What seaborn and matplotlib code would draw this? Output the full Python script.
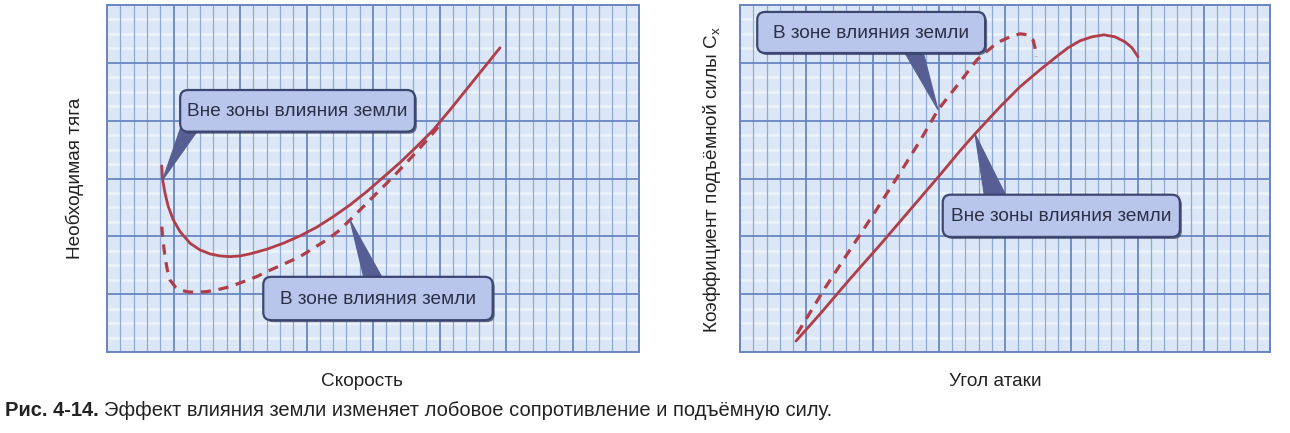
import numpy as np
import pandas as pd
import matplotlib
matplotlib.use("Agg")
import matplotlib.pyplot as plt
from matplotlib.patches import FancyBboxPatch, Polygon
import seaborn as sns

# --- Required thrust vs speed (left panel), grid units ---
speed_out = [0.823, 0.837, 0.872, 0.922, 0.997, 1.098, 1.248, 1.398, 1.549, 1.699,
             1.850, 2.000, 2.150, 2.401, 2.652, 2.902, 3.153, 3.403, 3.654, 3.905,
             4.155, 4.406, 4.657, 4.907, 5.158, 5.534, 5.910]
thrust_out = [3.218, 2.976, 2.745, 2.514, 2.284, 2.082, 1.881, 1.765, 1.696, 1.661,
              1.649, 1.661, 1.696, 1.776, 1.881, 2.007, 2.157, 2.341, 2.543, 2.773,
              3.022, 3.275, 3.552, 3.841, 4.187, 4.723, 5.260]

speed_in = [0.823, 0.847, 0.872, 0.907, 0.947, 1.023, 1.098, 1.223, 1.348, 1.499,
            1.649, 1.850, 2.050, 2.251, 2.401, 2.652, 2.902, 3.103, 3.303, 3.504,
            3.654, 3.855, 4.055, 4.256, 4.456, 4.657, 4.907, 5.008]
thrust_in = [2.168, 1.881, 1.649, 1.419, 1.246, 1.130, 1.073, 1.038, 1.033, 1.044,
             1.073, 1.130, 1.216, 1.303, 1.389, 1.517, 1.649, 1.794, 1.938, 2.111,
             2.284, 2.514, 2.745, 2.975, 3.215, 3.465, 3.790, 3.930]

# --- Lift coefficient vs angle of attack (right panel), grid units ---
aoa_out = [0.845, 1.208, 1.660, 2.113, 2.566, 3.019, 3.321, 3.547, 3.925, 4.226,
           4.528, 4.755, 4.951, 5.132, 5.313, 5.494, 5.660, 5.811, 5.917, 6.008]
cl_out = [0.190, 0.657, 1.263, 1.851, 2.457, 3.062, 3.478, 3.772, 4.239, 4.585,
          4.879, 5.087, 5.260, 5.381, 5.450, 5.484, 5.450, 5.363, 5.260, 5.104]

aoa_in = [0.860, 1.072, 1.283, 1.660, 2.038, 2.415, 2.717, 2.989, 3.321, 3.577,
          3.879, 4.075, 4.226, 4.347, 4.423, 4.453, 4.468]
cl_in = [0.311, 0.709, 1.107, 1.765, 2.422, 3.097, 3.651, 4.187, 4.671, 5.052,
         5.346, 5.450, 5.502, 5.484, 5.398, 5.260, 5.104]

label_out = "Вне зоны влияния земли"
label_in = "В зоне влияния земли"
xlabel_left = "Скорость"
ylabel_left = "Необходимая тяга"
xlabel_right = "Угол атаки"
ylabel_right = "Коэффициент подъёмной силы C$_\\mathregular{x}$"
caption_bold = "Рис. 4-14."
caption_text = "Эффект влияния земли изменяет лобовое сопротивление и подъёмную силу."

sns.set_style("white")
plt.rcParams["font.family"] = ["Liberation Sans", "DejaVu Sans"]
plt.rcParams["mathtext.default"] = "regular"

BG = "#dbe7f6"
MINOR_V = "#8fa8d5"
MAJOR = "#6a86c0"
MINOR_H = "#edf3fb"
CURVE = "#b03d48"
BOX_FC = "#b9c5ea"
BOX_EC = "#3c4670"
POINTER = "#565e93"
TEXT = "#2b3048"

W, H = 1290, 433
fig = plt.figure(figsize=(W / 100, H / 100), dpi=100)
fig.patch.set_facecolor("white")

ax_l = fig.add_axes([107 / W, 1 - 352 / H, 532 / W, 347 / H])
ax_r = fig.add_axes([740 / W, 1 - 352 / H, 530 / W, 347 / H])


def graph_paper(ax):
    ax.set_facecolor(BG)
    ax.set_xlim(0, 8)
    ax.set_ylim(0, 6)
    ax.set_xticks(np.arange(0, 9, 1))
    ax.set_xticks(np.arange(0, 8.01, 0.2), minor=True)
    ax.set_yticks(np.arange(0, 7, 1))
    # faint light stripes between the major rows, kept under the vertical rules
    for yv in np.arange(0.25, 6, 0.25):
        if abs(yv - round(yv)) > 1e-6:
            ax.axhline(yv, color=MINOR_H, lw=1.8, zorder=0.1)
    ax.grid(which="minor", axis="x", color=MINOR_V, lw=0.9, zorder=0.5)
    ax.grid(which="major", color=MAJOR, lw=1.3, zorder=0.6)
    ax.set_axisbelow(True)
    ax.tick_params(which="both", length=0, labelleft=False, labelbottom=False)
    ax.set_xlabel("")
    ax.set_ylabel("")
    for s in ax.spines.values():
        s.set_color(MAJOR)
        s.set_linewidth(1.4)


def callout(ax, x0, x1, y0, y1, base, tip, text):
    # pointer wedge first, the box covers its base
    ax.add_patch(Polygon([base[0], base[1], tip], closed=True, fc=POINTER,
                         ec=POINTER, lw=0.8, zorder=4))
    shadow = FancyBboxPatch((x0 + 0.03, y0 - 0.035), x1 - x0, y1 - y0,
                            boxstyle="round,pad=0,rounding_size=0.12",
                            mutation_aspect=66.5 / 57.8,
                            fc="#3a4263", ec="none", zorder=5, alpha=0.75)
    ax.add_patch(shadow)
    box = FancyBboxPatch((x0, y0), x1 - x0, y1 - y0,
                         boxstyle="round,pad=0,rounding_size=0.12",
                         mutation_aspect=66.5 / 57.8,
                         fc=BOX_FC, ec=BOX_EC, lw=1.6, zorder=6)
    ax.add_patch(box)
    ax.text((x0 + x1) / 2, (y0 + y1) / 2 - 0.01, text, ha="center", va="center",
            fontsize=13.7, color=TEXT, zorder=7)


# left panel curves
sns.lineplot(x=speed_out, y=thrust_out, ax=ax_l, sort=False, color=CURVE,
             lw=2.0, solid_capstyle="round", solid_joinstyle="round", zorder=3)
sns.lineplot(x=speed_in, y=thrust_in, ax=ax_l, sort=False, color=CURVE,
             lw=2.3, linestyle=(0, (3.2, 2.4)), zorder=3)

# right panel curves
sns.lineplot(x=aoa_out, y=cl_out, ax=ax_r, sort=False, color=CURVE,
             lw=2.0, solid_capstyle="round", solid_joinstyle="round", zorder=3)
sns.lineplot(x=aoa_in, y=cl_in, ax=ax_r, sort=False, color=CURVE,
             lw=2.3, linestyle=(0, (3.2, 2.4)), zorder=3)

for ax in (ax_l, ax_r):
    graph_paper(ax)

# callouts
callout(ax_l, 1.10, 4.63, 3.81, 4.53,
        [(1.12, 3.92), (1.42, 3.92)], (speed_out[1], thrust_out[1]), label_out)
callout(ax_l, 2.35, 5.80, 0.55, 1.30,
        [(3.88, 1.2), (4.18, 1.2)], (speed_in[20], thrust_in[20]), label_in)
callout(ax_r, 0.26, 3.70, 5.17, 5.88,
        [(2.45, 5.25), (2.75, 5.25)], (aoa_in[7], cl_in[7]), label_in)
callout(ax_r, 3.06, 6.64, 1.99, 2.72,
        [(3.70, 2.62), (4.05, 2.62)], (aoa_out[7], cl_out[7]), label_out)

# axis titles
fig.text(75 / W, 1 - 178 / H, ylabel_left, rotation=90, ha="center", va="center",
         fontsize=13.7, color="#222222")
fig.text(362 / W, 1 - 382 / H, xlabel_left, ha="center", va="center",
         fontsize=13.7, color="#222222")
fig.text(712 / W, 1 - 180 / H, ylabel_right, rotation=90, ha="center", va="center",
         fontsize=13.7, color="#222222")
fig.text(995 / W, 1 - 382 / H, xlabel_right, ha="center", va="center",
         fontsize=13.7, color="#222222")

# caption
cb = fig.text(5 / W, 1 - 411 / H, caption_bold, ha="left", va="center",
              fontsize=14.5, fontweight="bold", color="#222222")
fig.canvas.draw()
bb = cb.get_window_extent()
fig.text((bb.x1 + 5) / W, 1 - 411 / H, caption_text, ha="left", va="center",
         fontsize=14.5, color="#222222")

fig.savefig("out.png", dpi=100, facecolor="white")
